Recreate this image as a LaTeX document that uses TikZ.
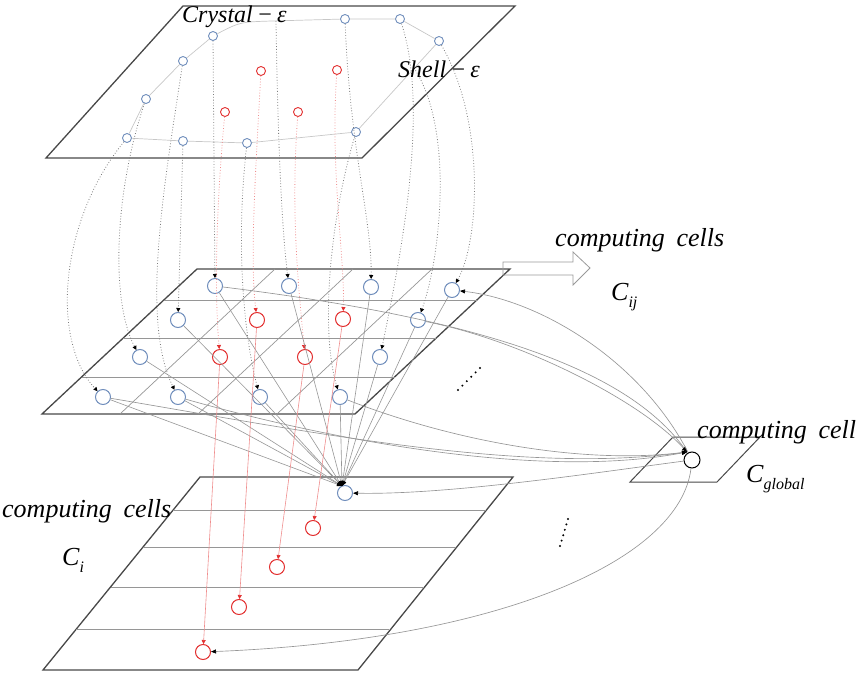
\documentclass[tikz,border=0pt]{standalone}
\usepackage{fontspec}
\setmainfont{Liberation Serif}
\usetikzlibrary{arrows.meta}

\definecolor{cellblue}{RGB}{112,142,188}
\definecolor{cellred}{RGB}{226,48,48}
\definecolor{planeedge}{RGB}{72,72,72}
\definecolor{linkgray}{RGB}{150,150,150}
\definecolor{dotgray}{RGB}{125,125,125}

\tikzset{
  plane/.style={draw=planeedge, line width=1.3pt, line join=miter},
  gridline/.style={draw=linkgray, line width=0.7pt},
  shellline/.style={draw=black!22, line width=0.7pt},
  topcell/.style={circle, draw=cellblue, line width=0.9pt, minimum size=9pt, inner sep=0pt},
  topred/.style={topcell, draw=cellred},
  midcell/.style={circle, draw=cellblue, line width=1pt, minimum size=15pt, inner sep=0pt},
  midred/.style={midcell, draw=cellred},
  globcell/.style={circle, draw=black, line width=1pt, minimum size=16pt, inner sep=0pt},
  feed/.style={draw=dotgray, dotted, line width=0.8pt, -{Triangle[length=4pt,width=4pt,color=black]}},
  feedred/.style={draw=cellred!55, dotted, line width=0.8pt, -{Triangle[length=4pt,width=4pt,color=cellred]}},
  fan/.style={draw=linkgray, line width=0.6pt, -{Triangle[length=5pt,width=4pt,color=black]}},
  drop/.style={draw=cellred!55, line width=0.6pt, -{Triangle[length=4pt,width=4pt,color=cellred]}},
  glob/.style={draw=linkgray, line width=0.65pt, -{Triangle[length=5pt,width=4pt,color=black]}},
  lbl/.style={font=\fontsize{24}{28}\selectfont\itshape, inner sep=0pt, anchor=base west},
  biglbl/.style={lbl, font=\fontsize{26}{30}\selectfont\itshape}
}

\begin{document}
\begin{tikzpicture}[x=1pt,y=-1pt]
\useasboundingbox (0,0) rectangle (859,676);

% ---- planes ----
\draw[plane] (183,6) -- (515,6) -- (362,158) -- (46,158) -- cycle;
\draw[plane] (197,269) -- (510,269) -- (355,414) -- (42,414) -- cycle;
\draw[plane] (200,477) -- (513,477) -- (358,670) -- (43,670) -- cycle;
\draw[plane, line width=1pt] (673,437) -- (760,437) -- (717,482) -- (630,482) -- cycle;

% grid of the middle plane
\draw[gridline] (163.9,300) -- (476.9,300);
\draw[gridline] (123.2,338) -- (436.2,338);
\draw[gridline] (81.6,377) -- (394.6,377);
\draw[gridline] (275,269) -- (120,414);
\draw[gridline] (353,269) -- (198,414);
\draw[gridline] (432,269) -- (277,414);

% rows of the lower plane
\draw[gridline] (173.2,510) -- (486.2,510);
\draw[gridline] (143.1,547) -- (456.1,547);
\draw[gridline] (110.5,587) -- (423.5,587);
\draw[gridline] (76.3,629) -- (389.3,629);

% hollow arrow towards the cell label
\draw[draw=black!40, line width=0.8pt, line join=miter]
  (503,262) -- (573,262) -- (573,252) -- (590,268) -- (573,285) -- (573,275) -- (503,275) -- cycle;

% ---- upper plane cells ----
\node[topcell] (t1) at (345,19) {};
\node[topcell] (t2) at (400,19) {};
\node[topcell] (t3) at (439,41) {};
\node[topcell] (t4) at (213,36) {};
\node[topcell] (t5) at (183,61) {};
\node[topcell] (t6) at (146,99) {};
\node[topcell] (t7) at (127,138) {};
\node[topcell] (t8) at (183,141) {};
\node[topcell] (t9) at (247,143) {};
\node[topcell] (t10) at (356,132) {};
\node[topred] (r1) at (261,71) {};
\node[topred] (r2) at (337,70) {};
\node[topred] (r3) at (225,112) {};
\node[topred] (r4) at (298,112) {};
\coordinate (s1) at (276,21);
\coordinate (sA) at (414,68);

% shell outline
\draw[shellline] (t7) -- (t8) -- (t9) -- (t10) -- (t3) -- (t2) -- (t1) -- (272,21)
  .. controls (240,22) .. (t4) -- (t5) -- (t6) -- (t7);

% ---- middle plane cells ----
\node[midcell] (m11) at (215,286) {};
\node[midcell] (m12) at (289,286) {};
\node[midcell] (m13) at (371,287) {};
\node[midcell] (m14) at (452,290) {};
\node[midcell] (m21) at (178,320) {};
\node[midred]  (m22) at (257,320) {};
\node[midred]  (m23) at (343,319) {};
\node[midcell] (m24) at (418,320) {};
\node[midcell] (m31) at (140,357) {};
\node[midred]  (m32) at (220,357) {};
\node[midred]  (m33) at (305,357) {};
\node[midcell] (m34) at (380,357) {};
\node[midcell] (m41) at (103,397) {};
\node[midcell] (m42) at (178,397) {};
\node[midcell] (m43) at (260,397) {};
\node[midcell] (m44) at (340,397) {};

% ---- lower plane cells ----
\node[midcell] (b1) at (345,493) {};
\node[midred]  (b2) at (313,528) {};
\node[midred]  (b3) at (277,567) {};
\node[midred]  (b4) at (239,607) {};
\node[midred]  (b5) at (203,652) {};
\coordinate (fanpt) at (342,486);

% ---- global cell ----
\node[globcell] (g) at (692,460) {};
\coordinate (gin) at (687,452);

% ---- dotted links from the crystal plane ----
\draw[feed] (t7) .. controls (60,220) and (50,340) .. (m41);
\draw[feed] (t6) .. controls (115,190) and (110,300) .. (m31);
\draw[feed] (t5) .. controls (165,180) and (140,320) .. (m42);
\draw[feed] (t8) -- (m21);
\draw[feed] (t4) -- (m11);
\draw[feed] (t9) .. controls (235,250) and (245,340) .. (m43);
\draw[feed] (s1) .. controls (278,150) and (282,230) .. (m12);
\draw[feed] (t10) .. controls (330,220) and (320,330) .. (m44);
\draw[feed] (t1) .. controls (350,150) and (372,220) .. (m13);
\draw[feed] (t2) .. controls (430,110) and (400,260) .. (m34);
\draw[feed] (t3) .. controls (485,120) and (480,240) .. (m14);
\draw[feed] (sA) .. controls (455,130) and (440,260) .. (m24);
\draw[feedred] (r1) .. controls (255,180) and (250,260) .. (m22);
\draw[feedred] (r2) .. controls (330,170) and (345,260) .. (m23);
\draw[feedred] (r3) .. controls (215,220) and (215,300) .. (m32);
\draw[feedred] (r4) .. controls (290,220) and (300,300) .. (m33);

% ---- middle cells gathered into the first lower cell ----
\foreach \m in {m11,m12,m13,m14,m21,m24,m31,m34,m41,m42,m43,m44}
  \draw[fan] (\m) -- (fanpt);

% ---- red cells passed down ----
\draw[drop] (m22) -- (b4);
\draw[drop] (m23) -- (b2);
\draw[drop] (m32) -- (b5);
\draw[drop] (m33) -- (b3);

% ---- links with the global cell ----
\draw[glob] (m11) .. controls (450,315) and (620,360) .. (gin);
\draw[glob] (m24) .. controls (520,340) and (640,400) .. (gin);
\draw[glob] (m44) .. controls (450,440) and (580,465) .. (gin);
\draw[glob] (m41) .. controls (300,430) and (520,475) .. (gin);
\draw[glob] (m42) .. controls (330,440) and (540,480) .. (gin);
\draw[glob] (g) .. controls (640,360) and (540,300) .. (m14);
\draw[glob] (g) .. controls (600,472) and (450,495) .. (b1);
\draw[glob] (g) .. controls (680,560) and (500,640) .. (b5);

% ---- ellipsis marks ----
\foreach \k in {0,...,5}
  \fill ({458+4.4*\k},{390-4.4*\k}) circle (1.1pt);
\foreach \k in {0,...,5}
  \fill ({568-1.6*\k},{519+5.4*\k}) circle (1.1pt);

% ---- labels ----
\node[lbl] (crystal) at (182,23) {Crystal\,−\,ε};
\node[lbl] (shell) at (398,78) {Shell\,−\,ε};
\node[biglbl] (cijtxt) at (555,247) {computing\hspace{0.45em}cells};
\node[biglbl] (cij) at (611,300) {C\raisebox{-0.3em}{\fontsize{16}{18}\selectfont ij}};
\node[biglbl] (gtxt) at (697,438) {computing\hspace{0.45em}cell};
\node[biglbl] (cglob) at (746,482) {C\raisebox{-0.3em}{\fontsize{16}{18}\selectfont global}};
\node[biglbl] (citxt) at (2,517) {computing\hspace{0.45em}cells};
\node[biglbl] (ci) at (62,565) {C\raisebox{-0.3em}{\fontsize{16}{18}\selectfont i}};
\end{tikzpicture}
\end{document}
